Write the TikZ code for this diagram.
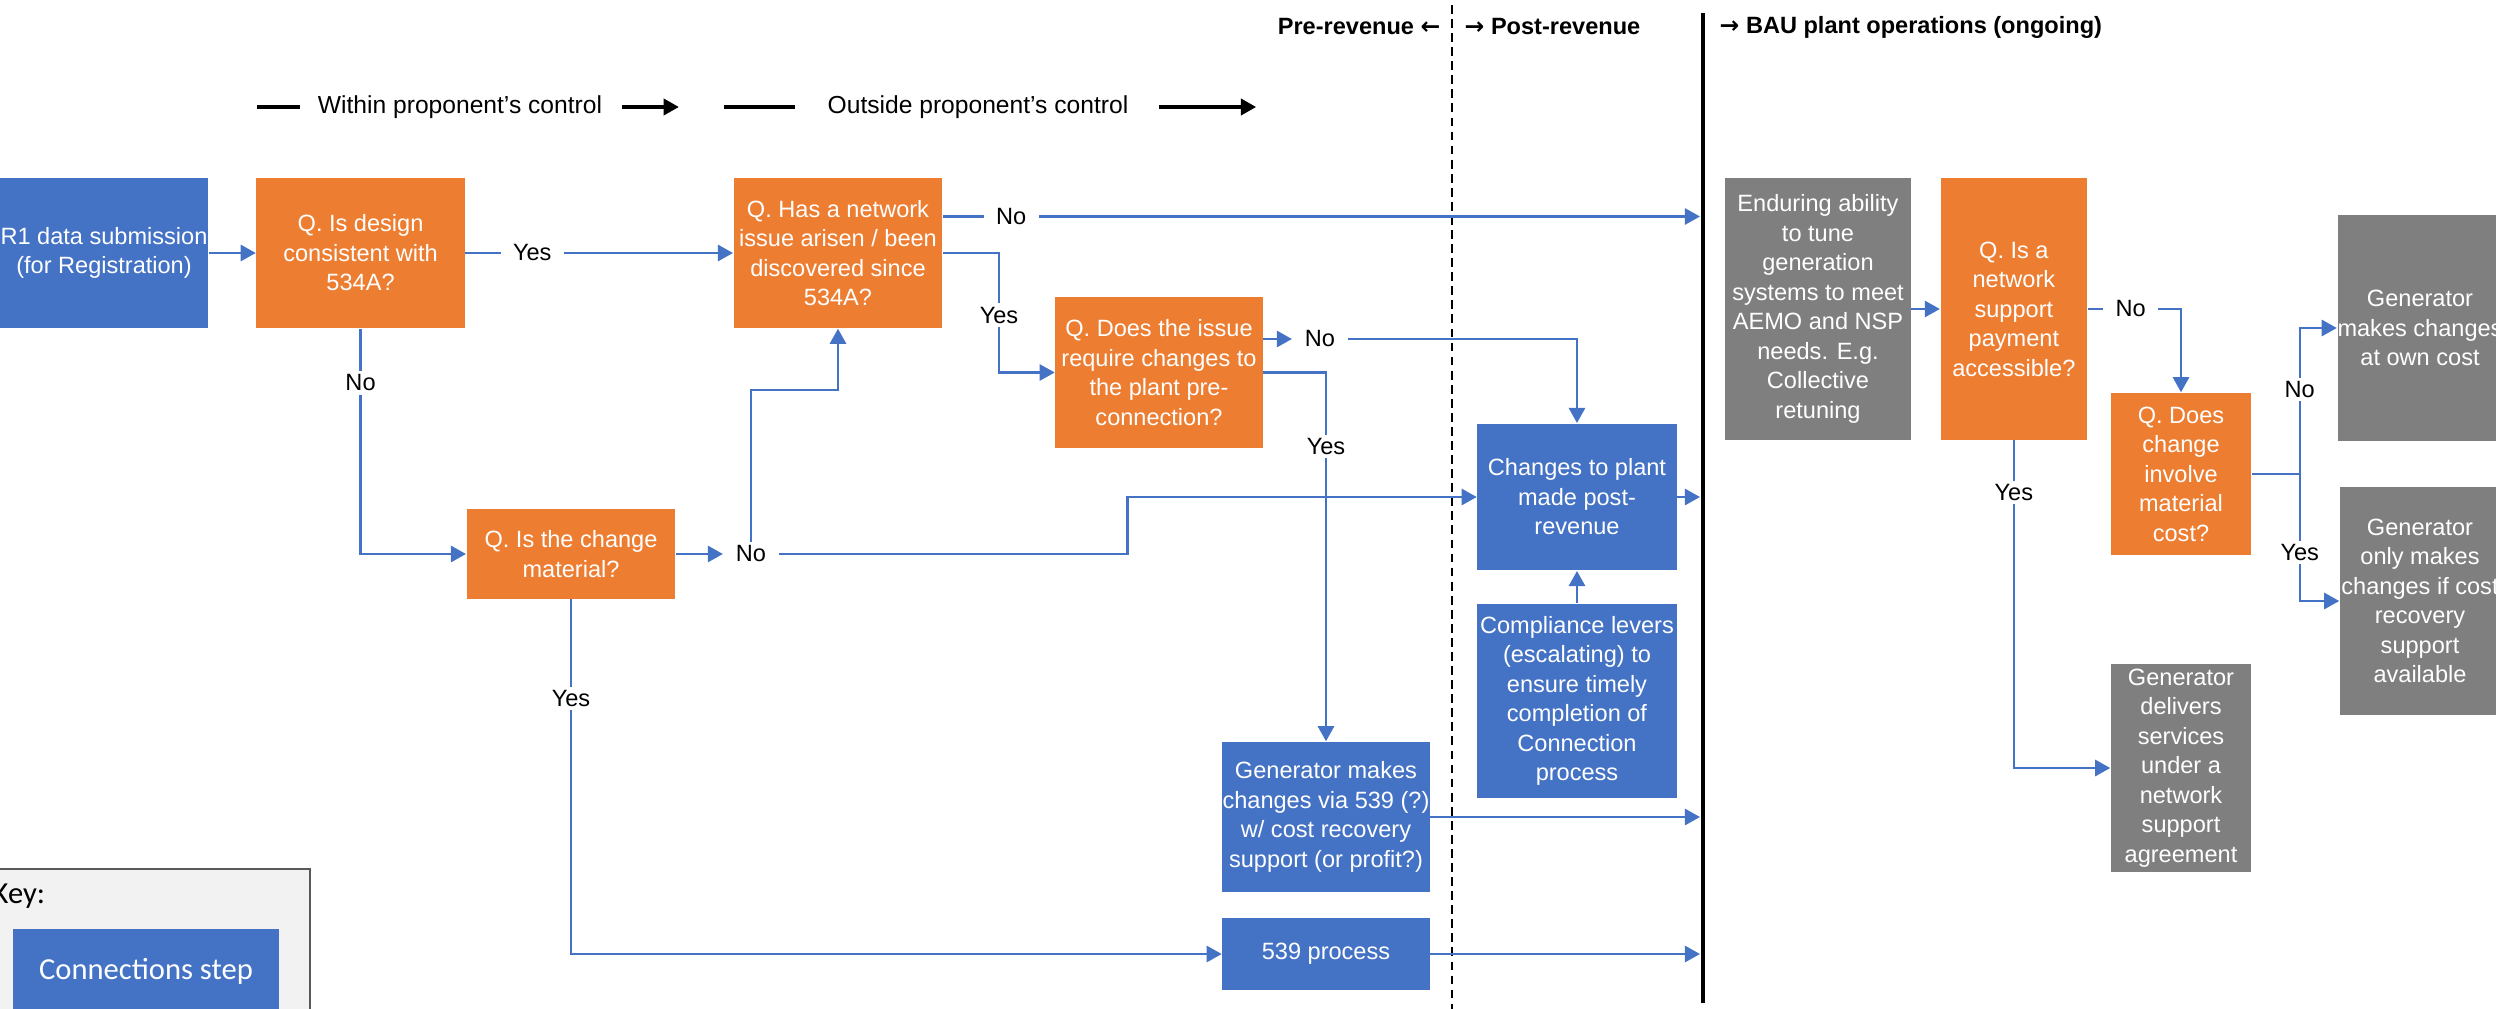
\documentclass[tikz,border=0pt]{standalone}
\usepackage{fontspec}
\setmainfont{Liberation Sans}
\newfontfamily\keyfont{Carlito}
\newfontfamily\arrowfont{DejaVu Sans}
\usepackage{tikz}
\usetikzlibrary{arrows.meta,calc,positioning}
\definecolor{StepBlue}{HTML}{4472C4}
\definecolor{QOrange}{HTML}{ED7D31}
\definecolor{OpsGray}{HTML}{7F7F7F}
\definecolor{KeyFill}{HTML}{F2F2F2}
\definecolor{KeyEdge}{HTML}{595959}

\begin{document}
\begin{tikzpicture}[x=0.01cm,y=-0.01cm,
    font=\fontsize{6.7}{8.4}\selectfont,
    box/.style={inner sep=0pt,align=center,text=white},
    stepbox/.style={box,fill=StepBlue},
    qbox/.style={box,fill=QOrange},
    opsbox/.style={box,fill=OpsGray},
    lbl/.style={fill=white,text=black,inner xsep=3.5pt,inner ysep=1pt},
    head/.style={font=\fontsize{6.7}{8.4}\selectfont\bfseries,inner sep=0pt},
    legtext/.style={font=\fontsize{7}{8.4}\selectfont,inner sep=0pt},
    keytext/.style={font=\keyfont\fontsize{8.7}{10}\selectfont},
    arr/.style={-{Triangle[length=4.3pt,width=4.6pt]},line width=.7pt,StepBlue},
    legline/.style={line width=.9pt,black},
    legarr/.style={-{Triangle[length=4.3pt,width=4.6pt]},line width=.9pt,black}]
    \useasboundingbox (0,0) rectangle (2496,1009);
    \clip (0,0) rectangle (2496,1009);

    % revenue stages
    \draw[dash pattern=on 2.5pt off 1.5pt,line width=.5pt] (1452,5) -- (1452,1009);
    \draw[line width=1.3pt] (1703,13) -- (1703,1003);
    \coordinate (bau) at (1700,0);
    \coordinate (bauNo) at (1700,216.5);
    \node[head,anchor=east] (prerev) at (1441,27) {Pre-revenue {\arrowfont ←}};
    \node[head,anchor=west] (postrevhead) at (1464,27) {{\arrowfont →} Post-revenue};
    \node[head,anchor=west] (bauhead) at (1719,27) {{\arrowfont →} BAU plant operations (ongoing)};

    % legend
    \node[legtext] (within) at (460,107) {Within proponent’s control};
    \node[legtext] (outside) at (978,107) {Outside proponent’s control};
    \draw[legline] ([xshift=-.6cm]within.west) -- ([xshift=-.17cm]within.west);
    \draw[legarr] ([xshift=.19cm]within.east) -- ([xshift=.76cm]within.east);
    \draw[legline] ([xshift=-1.03cm]outside.west) -- ([xshift=-.32cm]outside.west);
    \draw[legarr] ([xshift=.3cm]outside.east) -- ([xshift=1.27cm]outside.east);

    % connection steps and questions
    \node[stepbox,minimum width=2.08cm,minimum height=1.5cm] (r1) at (104,253) {R1 data submission\\(for Registration)};
    \node[qbox,minimum width=2.08cm,minimum height=1.5cm,right=.47cm of r1] (design) {Q. Is design\\consistent with\\534A?};
    \node[qbox,minimum width=2.085cm,minimum height=1.5cm] (issue) at (838,253) {Q. Has a network\\issue arisen / been\\discovered since\\534A?};
    \node[qbox,minimum width=2.07cm,minimum height=1.5cm] (precon) at (1159,372.5) {Q. Does the issue\\require changes to\\the plant pre-\\connection?};
    \node[qbox,minimum width=2.085cm,minimum height=.89cm] (material) at (571,554) {Q. Is the change\\material?};
    \node[stepbox,minimum width=1.99cm,minimum height=1.465cm] (postrev) at (1577,497) {Changes to plant\\made post-\\revenue};
    \node[stepbox,minimum width=1.99cm,minimum height=1.94cm,below=.32cm of postrev] (levers) {Compliance levers\\(escalating) to\\ensure timely\\completion of\\Connection\\process};
    \node[stepbox,minimum width=2.07cm,minimum height=1.5cm] (via539) at (1326,817) {Generator makes\\changes via 539 (?)\\w/ cost recovery\\support (or profit?)};
    \node[stepbox,minimum width=2.07cm,minimum height=.72cm] (proc539) at (1326,954) {539 process};
    \node[lbl] (no3) at (1320,339) {No};
    \node[lbl] (no4) at (751,554) {No};

    % BAU operations
    \node[opsbox,minimum width=1.85cm,minimum height=2.61cm] (tune) at (1818,309) {Enduring ability\\to tune\\generation\\systems to meet\\AEMO and NSP\\needs. E.g.\\Collective\\retuning};
    \node[qbox,minimum width=1.465cm,minimum height=2.61cm,right=.286cm of tune] (nsp) {Q. Is a\\network\\support\\payment\\accessible?};
    \node[qbox,minimum width=1.4cm,minimum height=1.62cm] (matcost) at (2181,474) {Q. Does\\change\\involve\\material\\cost?};
    \node[opsbox,minimum width=1.6cm,minimum height=2.26cm] (owncost) at (2420,328) {Generator\\makes changes\\at own cost};
    \node[opsbox,minimum width=1.6cm,minimum height=2.28cm] (ifcost) at (2420,601) {Generator\\only makes\\changes if cost\\recovery\\support\\available};
    \node[opsbox,minimum width=1.4cm,minimum height=2.085cm] (nsa) at (2181,768) {Generator\\delivers\\services\\under a\\network\\support\\agreement};

    % key
    \node[draw=KeyEdge,fill=KeyFill,line width=.5pt,minimum width=3.2cm,minimum height=1.62cm,inner sep=0pt] (keybox) at (150,950) {};
    \node[keytext,anchor=west,inner sep=0pt] (keylbl) at (-8,896) {Key:};
    \node[stepbox,keytext,minimum width=2.66cm,minimum height=.83cm] (keystep) at (146,971) {Connections step};

    % connectors
    \draw[arr] (r1) -- (design);
    \draw[arr] (design) -- node[lbl,pos=.25]{Yes} (issue);
    \draw[arr] (design) |- node[lbl,pos=.12]{No} (material);
    \draw[arr] (issue.east |- bauNo) -- node[lbl,pos=.09]{No} (bauNo);
    \draw[arr] (issue.east) -- ++(56,0) |- node[lbl,pos=.26]{Yes} (precon.west);
    \draw[arr] (precon.east |- no3) -- (no3);
    \draw[arr] (no3) -| (postrev.north);
    \draw[arr] (precon.east) -| node[lbl,pos=.6]{Yes} (via539.north);
    \draw[arr] (material) -- (no4);
    \draw[arr] (no4) -- ++(0,-164) -| (issue.south);
    \draw[arr] (no4) -| ([xshift=-3.49cm]postrev.west) -- (postrev.west);
    \draw[arr] (material) |- node[lbl,pos=.14]{Yes} (proc539);
    \draw[arr] (proc539) -- (proc539 -| bau);
    \draw[arr] (via539) -- (via539 -| bau);
    \draw[arr] (postrev) -- (postrev -| bau);
    \draw[arr] (levers) -- (postrev);
    \draw[arr] (tune) -- (nsp);
    \draw[arr] (nsp) -| node[lbl,pos=.23]{No} (matcost);
    \draw[arr] (nsp) |- node[lbl,pos=.08]{Yes} (nsa);
    \draw[arr] (matcost.east) -- ++(48,0) |- node[lbl,pos=.29]{No} (owncost.west);
    \draw[arr] (matcost.east) -- ++(48,0) |- node[lbl,pos=.31]{Yes} (ifcost.west);
\end{tikzpicture}
\end{document}
